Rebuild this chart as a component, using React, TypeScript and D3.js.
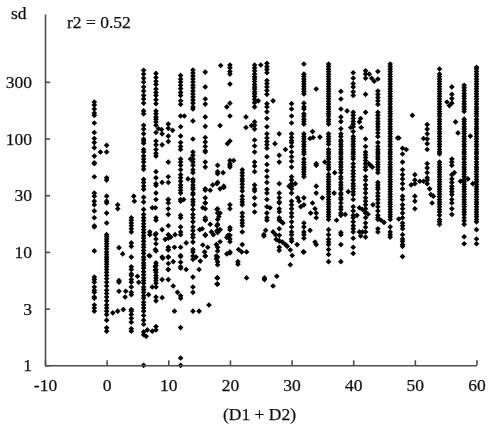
import { useRef, useEffect } from "react";
import * as d3 from "d3";

const xTicks = [-10, 0, 10, 20, 30, 40, 50, 60];
// the axis is log10 with half-decade gridding, the labels are rounded
const yTickValues = [1, 3.162, 10, 31.62, 100, 316.2];
const yTickLabels = ["1", "3", "10", "30", "100", "300"];

// sd values, one array per vertical column of points
const sdM2 = [210, 197, 182, 168, 160, 137, 113, 100, 92, 83, 70, 61, 60, 46, 33, 31, 28, 26, 23, 20, 17, 16.6, 10.2, 6, 5.7, 5.4, 4.9, 4.6, 4.4, 4, 3.9, 3.4, 3.2, 3];
const sd0 = [87, 76, 45, 43, 31, 28, 27, 22, 18, 14.2, 13.6, 13, 12.4, 11.8, 11.2, 10.6, 10, 9.5, 9, 8.6, 8.2, 7.8, 7.4, 7, 6.6, 6.2, 5.8, 5.4, 5, 4.6, 4.3, 4, 3.7, 3.4, 3.2, 3, 2.8, 2.5, 2.14, 2];
const sd4 = [20, 19, 18, 17, 16, 15, 12, 11.2, 9, 7.4, 7, 6.4, 6.2, 5.7, 5.4, 4.9, 4.4, 4.2, 3.1, 3, 2.8, 2.6, 2.4, 2.1, 2];
const sd6 = [400, 370, 340, 315, 285, 262, 240, 223, 205, 175, 165, 131, 121, 110, 99, 95, 91, 80, 76, 70, 66, 62, 57, 53.5, 43.6, 41, 38, 35.6, 30.3, 27.5, 23.7, 21.4, 20, 18.9, 17.7, 16.7, 15.7, 14.8, 13.9, 13.2, 12.4, 11.6, 11, 10.3, 9.7, 9, 8.55, 8, 7.6, 7.2, 6.7, 6.3, 5.9, 5.6, 5.3, 4.9, 4.65, 4.4, 4.1, 3.9, 3.6, 3.4, 3.2, 3, 2.75, 2.5, 2.3, 1.97, 1.86, 1];
const sd8 = [375, 345, 320, 300, 273, 255, 240, 220, 203, 175, 165, 155, 148, 140, 131, 113, 95, 88, 80, 74, 70, 51, 45, 40, 38.5, 33, 29, 20, 19, 14.5, 13, 11.8, 10.2, 8, 7.6, 7, 6.6, 6.2, 5.9, 5.6, 5.3, 4.9, 4, 3.7, 2.2, 2.05];
const sd10 = [134, 123, 105, 94, 62, 46, 29, 27, 24, 17, 14.2, 13.2, 11, 10.4, 9, 7.9, 7, 5.7];
const sd12 = [360, 335, 315, 295, 275, 255, 240, 215, 200, 158, 127, 105, 92, 85, 80, 66, 62, 58, 53, 48, 45, 42, 39, 37, 35, 33, 29, 28, 21, 20, 16.6, 15, 14.2, 9.1, 8.1, 7.2, 4.1, 3.9, 2.15, 1.16, 1];
const sd14 = [402, 378, 355, 335, 315, 295, 280, 262, 247, 232, 218, 205, 190, 182, 143, 99, 76, 71, 66, 62, 58, 53, 50, 43.6, 41.5, 39, 37, 35.6, 33, 32, 29, 27.6, 26, 23.7, 21.4, 20, 18.4, 16.6, 15.4, 14.2, 13.4, 12.2, 10.5, 10, 9.2, 8.6, 6, 4.9, 4.4, 3];
const sd16 = [385, 285, 223, 201, 155, 128, 102, 93, 85, 78, 76, 62, 56, 36, 30, 27, 24, 20, 19, 14, 9.2];
const sd18 = [58, 51, 49, 41, 24, 22, 19.3, 17.5, 15.5, 14.8, 11, 10.2, 9, 8.2, 7.7, 5.9, 5.2];
const sd20 = [445, 420, 390, 370, 302, 205, 158, 95, 64, 60, 58, 56, 24, 15.7, 14, 13, 9.8];
const sd22 = [53, 50, 47, 44, 42, 39.5, 37, 34.5, 31, 29, 27.5, 26, 22, 20.4, 19, 18, 17, 15, 11.6];
const sd24 = [445, 420, 395, 370, 350, 335, 318, 300, 285, 273, 258, 247, 235, 221, 207, 190, 140, 131, 121, 97, 86, 76, 62, 57, 51, 39, 36, 34.5, 30, 26, 22.5];
const sd26 = [460, 430, 405, 380, 325, 305, 285, 265, 245, 203, 190, 172, 150, 127, 110, 101, 94, 88, 82, 69, 59, 52, 46, 41, 35.6, 33, 29, 25, 22, 20, 19];
const sd28 = [110, 71, 62, 40, 33, 30, 27.5, 27, 24, 22.6, 20, 19, 16, 14, 12.5, 11, 10.3];
const sd30 = [203, 182, 158, 137, 110, 102, 96, 92, 85, 76, 69, 63, 56, 46, 43, 40, 38, 36, 33, 28, 26, 24, 22, 20.4, 18.4, 16.6, 15, 14.2, 13, 12.4];
const sd32 = [454, 370, 352, 335, 318, 302, 287, 273, 260, 247, 205, 190, 182, 165, 157, 148, 141, 134, 110, 104, 99, 94, 89, 85, 80, 76, 73, 66, 62, 59, 56, 53.5, 51, 48.4, 46, 30, 26, 18, 16.6, 15, 14.2, 13.2, 10];
const sd34 = [273, 60, 58, 38, 22, 20, 11.6];
const sd36 = [454, 432, 410, 390, 370, 352, 335, 318, 302, 287, 273, 260, 247, 235, 223, 212, 201, 191, 182, 173, 165, 157, 148, 141, 134, 110, 104, 99, 94, 89, 80, 76, 73, 69, 66, 62, 59, 56, 53.5, 48.4, 46, 43.6, 41.5, 39.4, 37.5, 35.6, 33.9, 32.2, 30.6, 29, 27.6, 26.3, 25, 23.7, 22.5, 21.4, 20.4, 19.3, 15.7, 14.2, 12.9, 12.2, 11.6, 10.5, 9.5, 8.2];
const sd38 = [260, 223, 182, 155, 141, 122, 110, 104, 97, 94, 89, 85, 80, 76, 73, 69, 66, 62, 59, 56, 53, 50, 46, 44, 41, 39, 37, 35.6, 33, 32, 30, 29, 27, 25, 23.7, 22, 21, 14.8, 14.2, 11.6, 8.2];
const sd40 = [380, 340, 305, 285, 258, 240, 170, 160, 150, 141, 134, 127, 115, 104, 99, 94, 89, 85, 80, 76, 73, 69, 66, 60, 56, 52, 49, 46, 43, 40, 38, 36, 34, 32, 29, 25, 23, 21, 20, 18.4, 17, 16, 15, 13.2, 11, 9.7];
const sd42 = [395, 370, 340, 245, 170, 99, 85, 76, 72, 68, 64, 60, 56, 53, 46, 43, 39, 36, 33, 30, 28, 26, 24, 22, 20, 18, 16.5, 15, 13.5];
const sd44 = [390, 335, 262, 245, 230, 215, 200, 170, 160, 150, 141, 134, 127, 120, 112, 104, 92, 85, 80, 76, 73, 69, 66, 62, 59, 56, 53, 50, 41, 39, 37, 35.6, 33, 31, 29, 27, 25, 23, 21, 19.3, 16];
const sd46 = [454, 432, 410, 390, 370, 352, 335, 318, 302, 287, 273, 260, 247, 235, 223, 212, 201, 191, 182, 173, 165, 157, 148, 141, 134, 127, 121, 115, 110, 104, 99, 94, 89, 85, 80, 76, 73, 69, 66, 62, 59, 56, 53.5, 51, 48.4, 46, 43.6, 41.5, 39.4, 37.5, 35.6, 33.9, 32.2, 30.6, 29, 27.6, 26.3, 25, 23.7, 22.5, 21.4, 20.4, 19.3, 16.6, 15, 14.2, 13.5];
const sd48 = [82, 73, 62, 53, 48, 44, 40, 36, 31, 29, 26, 24, 22, 20, 18, 17, 16, 14.2, 13, 12.4, 11.6, 11.2, 9.1];
const sd50 = [48, 43, 40, 31, 28, 24];
const sd52 = [133, 121, 110, 99, 90, 80, 60, 55, 50, 45, 40];
const sd54 = [410, 370, 352, 335, 318, 302, 287, 273, 260, 247, 235, 223, 212, 201, 191, 182, 173, 165, 157, 148, 141, 134, 127, 121, 115, 110, 104, 99, 94, 89, 85, 80, 76, 73, 62, 59, 56, 53.5, 51, 48.4, 46, 43.6, 41.5, 39.4, 37.5, 35.6, 33.9, 32.2, 30.6, 29, 27.6, 26.3, 25, 23.7, 22.5, 21, 19.3, 18.4, 17.5];
const sd56 = [285, 245, 225, 205, 66, 62, 58, 48, 44, 41, 38, 36, 34, 32, 29, 27, 24, 21.4];
const sd58 = [295, 280, 265, 250, 237, 225, 212, 201, 191, 182, 173, 148, 141, 134, 127, 121, 115, 110, 104, 99, 94, 89, 85, 80, 76, 73, 69, 66, 62, 59, 56, 53.5, 51, 48.4, 46, 43.6, 41.5, 39.4, 37.5, 35.6, 33.9, 32.2, 30.6, 29, 27.6, 26.3, 25, 23.7, 22.5, 21.4, 20, 18.8, 17.5, 13.6, 11.8];
const sd60 = [425, 410, 390, 370, 352, 335, 318, 302, 287, 273, 260, 247, 235, 223, 212, 201, 191, 182, 173, 165, 157, 148, 141, 134, 127, 121, 115, 110, 104, 99, 94, 89, 85, 80, 76, 73, 69, 66, 62, 59, 56, 53.5, 51, 48.4, 46, 43.6, 41.5, 39.4, 37.5, 35.6, 33.9, 32.2, 30.6, 29, 27.6, 26.3, 25, 23.7, 22.5, 21.4, 20.4, 19.3, 18.4, 15.7, 13, 11.8];

const columnX = [-2, 0, 4, 6, 8, 10, 12, 14, 16, 18, 20, 22, 24, 26, 28, 30, 32, 34, 36, 38, 40, 42, 44, 46, 48, 50, 52, 54, 56, 58, 60];
const columnSd = [sdM2, sd0, sd4, sd6, sd8, sd10, sd12, sd14, sd16, sd18, sd20, sd22, sd24, sd26, sd28, sd30, sd32, sd34, sd36, sd38, sd40, sd42, sd44, sd46, sd48, sd50, sd52, sd54, sd56, sd58, sd60];

// points sitting between the columns, [x, sd]
const looseLow: [number, number][] = [
  [-1, 76], [1, 2.9], [1.8, 3], [2.7, 3.1], [2, 10.9], [2.6, 9.6], [2, 5.6], [2, 5.4], [2, 4.5], [3.1, 4.5], [3, 4], [1.8, 26], [1.8, 24],
  [4.4, 31], [4.5, 28], [5, 6.1], [5.2, 5.4], [6.4, 1.8], [6.6, 2.05], [7.4, 2], [6.8, 4.2], [7.4, 4.9], [9, 3.95], [6.9, 9.3], [7, 14.2], [9.1, 8.8],
  [8.9, 120], [8.4, 122], [9, 110], [10.7, 118], [9, 88], [9, 41], [10, 41],
  [12.5, 29], [7.4, 24.5], [7.9, 24.5], [10, 29], [10, 21.4], [9, 15.7], [7, 15], [7.9, 14.2], [9.5, 12.9], [10.4, 13.5], [11.1, 14.2], [12.9, 12],
  [12, 11], [11, 11], [10, 10.5], [9, 9], [10, 9], [10.8, 8.2], [12, 9.3], [7.9, 10.5], [7, 9.2], [7.9, 7.4], [7.9, 6.9], [10, 7], [9, 5.7], [10.8, 5], [12, 7.4], [12.9, 7],
  [11, 3], [11.5, 4.4], [13.2, 44], [13.6, 66], [12.6, 158],
];
const looseMid: [number, number][] = [
  [15, 7], [15, 3], [15.6, 11.5], [14.5, 9], [15.5, 16], [15.9, 10], [16.6, 3.4], [16.4, 11], [17, 15],
  [18.5, 440], [18.9, 50], [19, 38], [17.2, 39], [19.5, 190], [18.4, 130], [19.6, 90], [20.6, 64], [21.4, 10.5], [21.9, 10], [22.6, 155], [22.6, 125], [23.5, 130], [24.6, 215], [25, 445],
  [17.9, 40], [16, 35], [16.8, 35], [18.4, 36], [19, 37], [20, 26], [22.7, 10], [21.3, 8.2], [21.3, 7.8], [22.7, 5.9], [25.6, 5.9], [17.9, 5.9], [17.9, 5.2],
  [20, 12.3], [19.5, 13.4], [18.4, 12.3], [17.8, 11.6], [20, 10], [19.5, 9.6], [17.8, 9.2], [17.8, 8.7], [16, 9.2], [15.2, 8.3], [15.1, 15.7], [16, 14.2], [17.3, 14.2], [17.9, 15.3], [18.4, 15.7],
  [16.8, 17.5], [16, 19.3], [17.9, 17], [17.9, 23.7], [18.4, 22], [18.2, 20.4], [15.6, 24.5], [16, 27], [20, 16.4], [19.7, 14],
  [27, 215], [27.3, 90], [29, 80], [29.6, 38], [30.6, 40], [31, 30], [31.2, 28], [31.5, 25],
  [26.5, 24.5], [25.8, 15.5], [25.5, 14.2], [25.5, 13.8], [27, 15], [27.4, 14.2], [28.3, 18.6], [28.6, 18],
  [27.5, 12.9], [28, 12.5], [28.5, 12.2], [29, 11.6], [29.3, 11.2], [29.8, 10.4], [30.1, 9.3], [29.8, 7.7], [27.6, 6.1], [25.6, 5.7], [27, 5],
  [30.9, 11.6], [31.9, 10], [33, 15.5], [33.8, 12.2], [33.4, 27], [34, 33], [33.8, 24], [33.1, 22],
];
const looseHigh: [number, number][] = [
  [33, 100], [34.6, 103], [33.4, 115], [35, 30], [33.5, 102], [35.4, 62], [37, 50], [39, 175], [39.6, 125], [41.3, 125], [41.2, 150], [41, 140],
  [42.6, 370], [43, 340], [43.4, 320], [42.5, 60], [42.8, 58], [43.1, 56], [37.3, 19], [36.9, 33], [38.7, 21.4], [39.2, 34], [40.6, 21], [41, 24.5], [41.5, 23.7], [42, 22.5], [42.4, 21.5], [43.2, 26],
  [44, 20], [44.5, 19], [45, 18.2], [44, 15], [41, 15], [41.5, 15], [41.2, 13.8], [47.4, 19.5], [47.4, 101], [47.2, 101], [48.6, 80], [49.4, 39], [50.8, 42], [51.4, 42], [52, 43], [52.4, 36], [52.6, 32], [53, 31], [52.8, 27],
  [55.2, 210], [55.6, 195], [56.6, 140], [57, 112], [56.4, 50], [58.6, 44], [59, 105], [59.4, 40], [57.4, 42], [49.6, 160], [51.4, 100],
];

const W = 490;
const H = 430;

export default function App() {
  const svgRef = useRef<SVGSVGElement>(null);

  useEffect(() => {
    const svg = d3.select(svgRef.current);
    svg.selectAll("*").remove();

    const x = d3.scaleLinear().domain([-10, 60]).range([45, 476.5]);
    const y = d3.scaleLog().domain([1, 1253]).range([365.3, 14]);

    svg
      .append("defs")
      .append("filter")
      .attr("id", "soft")
      .append("feGaussianBlur")
      .attr("stdDeviation", 0.35);

    const root = svg.append("g").attr("filter", "url(#soft)");

    // Points
    const marker = d3.symbol().type(d3.symbolSquare).size(16);
    const pts: [number, number][] = [...looseLow, ...looseMid, ...looseHigh];
    columnX.forEach((cx, i) => columnSd[i].forEach((s) => pts.push([cx, s])));

    root
      .append("g")
      .selectAll("path")
      .data(pts)
      .join("path")
      .attr("d", marker()!)
      .attr("fill", "#000")
      .attr("transform", (d) => `translate(${x(d[0])},${y(d[1])}) rotate(45)`);

    // Axes
    const xAxis = root
      .append("g")
      .attr("transform", "translate(0,365.3)")
      .call(
        d3
          .axisBottom(x)
          .tickValues(xTicks)
          .tickFormat((d) => String(d))
          .tickSizeInner(-5)
          .tickSizeOuter(0)
          .tickPadding(13)
      );
    const yAxis = root
      .append("g")
      .attr("transform", "translate(45,0)")
      .call(
        d3
          .axisLeft(y)
          .tickValues(yTickValues)
          .tickFormat((_, i) => yTickLabels[i])
          .tickSizeInner(-5)
          .tickSizeOuter(0)
          .tickPadding(13)
      );

    [xAxis, yAxis].forEach((a) => {
      a.selectAll("path,line").attr("stroke", "#4d4d4d").attr("stroke-width", 1.6);
      a.selectAll("text")
        .attr("fill", "#111")
        .attr("stroke", "#111")
        .attr("stroke-width", 0.25)
        .attr("font-family", "'Liberation Serif'")
        .attr("font-size", 17.5);
    });

    // Labels
    const label = (t: string, px: number, py: number, anchor = "start") =>
      root
        .append("text")
        .text(t)
        .attr("x", px)
        .attr("y", py)
        .attr("text-anchor", anchor)
        .attr("fill", "#111")
        .attr("stroke", "#111")
        .attr("stroke-width", 0.25)
        .attr("font-family", "'Liberation Serif'")
        .attr("font-size", 17.5);

    label("sd", 11, 19);
    label("r2 = 0.52", 67, 28);
    label("(D1 + D2)", 259.5, 420, "middle");
  }, []);

  return (
    <svg
      ref={svgRef}
      width={W}
      height={H}
      style={{ position: "absolute", left: 0, top: 0, background: "#fff" }}
    ></svg>
  );
}
